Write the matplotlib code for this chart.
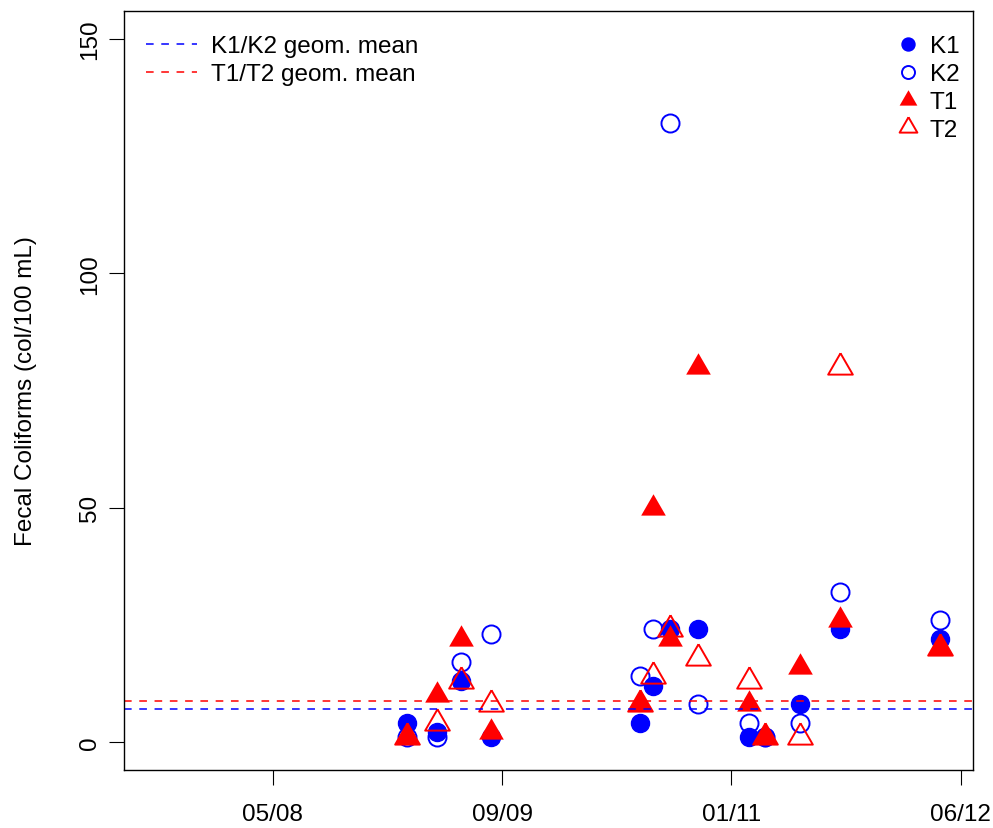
import numpy as np
import matplotlib
matplotlib.use("Agg")
import matplotlib.pyplot as plt
import matplotlib.dates as mdates

plt.rcParams['font.family'] = ['Liberation Sans', 'DejaVu Sans']

# Sampling dates and fecal coliform counts (col/100 mL) per station
sample_dates = np.array([
    '2009-02-17', '2009-04-23', '2009-06-14', '2009-08-19',
    '2010-07-08', '2010-08-05', '2010-09-11', '2010-11-11',
    '2011-03-02', '2011-04-05', '2011-06-20', '2011-09-15',
    '2012-04-19'], dtype='datetime64[D]')
k1 = [4, 2, 13, 1, 4, 12, 24, 24, 1, 1, 8, 24, 22]
k2 = [1, 1, 17, 23, 14, 24, 132, 8, 4, 1, 4, 32, 26]
t1 = [1, 10, 22, 2, 8, 50, 22, 80, 8, 1, 16, 26, 20]
t2 = [1, 4, 13, 8, 8, 14, 24, 18, 13, 1, 1, 80, 20]

# geometric means of the paired stations
k_geomean = 7.0
t_geomean = 8.8

tick_dates = np.array(['2008-05-01', '2009-09-11', '2011-01-22', '2012-06-03'],
                      dtype='datetime64[D]')
x_range = np.array(['2007-06-13', '2012-06-30'], dtype='datetime64[D]')

# triangle centred on its centroid, like R's pch 17 / 2
tri = [(0, 1), (-0.866, -0.5), (0.866, -0.5), (0, 1)]

fig = plt.figure(figsize=(9.93, 8.29), dpi=100)
ax = fig.add_axes([0.1249, 0.0700, 0.8550, 0.9155])

x = mdates.date2num(sample_dates)
ax.plot(x, k1, linestyle='none', marker='o', markersize=13,
        color='blue', label='K1')
ax.plot(x, k2, linestyle='none', marker='o', markersize=13,
        markerfacecolor='none', markeredgecolor='blue', markeredgewidth=1.4,
        label='K2')
ax.plot(x, t1, linestyle='none', marker=tri, markersize=20.5,
        color='red', markeredgewidth=0, label='T1')
ax.plot(x, t2, linestyle='none', marker=tri, markersize=20.5,
        markerfacecolor='none', markeredgecolor='red', markeredgewidth=1.4,
        label='T2')

kline = ax.axhline(k_geomean, color='blue', linestyle=(0, (5, 5)), linewidth=1.1)
tline = ax.axhline(t_geomean, color='red', linestyle=(0, (5, 5)), linewidth=1.1)

ax.set_xlim(mdates.date2num(x_range))
ax.set_ylim(-6, 156)
ax.set_xticks(mdates.date2num(tick_dates))
ax.xaxis.set_major_formatter(mdates.DateFormatter('%m/%y'))
ax.set_yticks([0, 50, 100, 150])
ax.tick_params(axis='both', direction='out', length=10.5, width=0.8,
               labelsize=17.5)
ax.tick_params(axis='x', pad=13)
ax.tick_params(axis='y', pad=6)
for lab in ax.get_yticklabels():
    lab.set_rotation(90)
    lab.set_va('center')
for sp in ax.spines.values():
    sp.set_linewidth(1.0)

ax.set_ylabel('Fecal Coliforms (col/100 mL)', fontsize=17.5, labelpad=30)

# marker legend, top right
leg1 = ax.legend(loc='upper right', bbox_to_anchor=(0.984, 0.968), frameon=False,
                 fontsize=17.5, markerscale=0.72, handlelength=0.8,
                 handletextpad=0.5, labelspacing=0.24, borderpad=0,
                 borderaxespad=0)
ax.add_artist(leg1)

# mean-line legend, top left
ax.legend([kline, tline], ['K1/K2 geom. mean', 'T1/T2 geom. mean'],
          loc='upper left', bbox_to_anchor=(0.026, 0.968), frameon=False,
          fontsize=17.5, handlelength=2.1, handletextpad=0.55,
          labelspacing=0.24, borderpad=0, borderaxespad=0)

fig.savefig('out.png', dpi=100)
